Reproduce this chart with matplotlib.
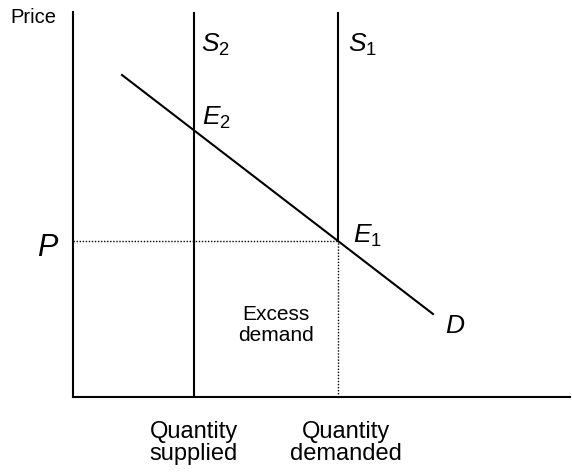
import matplotlib.pyplot as plt

plt.rcParams['font.family'] = ['Liberation Sans', 'DejaVu Sans']
plt.rcParams['mathtext.fontset'] = 'custom'
plt.rcParams['mathtext.rm'] = 'Liberation Sans'
plt.rcParams['mathtext.it'] = 'Liberation Sans:italic'

# chart values (abstract units)
q_supplied = 2.42
q_demanded = 5.3
price = 3.12
demand_q = [0.98, 7.2]
demand_p = [6.44, 1.66]
q_max = 9.94
p_max = 7.7

fig = plt.figure(figsize=(5.72, 4.72), dpi=100)
ax = fig.add_axes([73 / 572, 75 / 472, 497 / 572, 385 / 472])
ax.set_xlim(0, q_max)
ax.set_ylim(0, p_max)
for s in ['top', 'right']:
    ax.spines[s].set_visible(False)
for s in ['left', 'bottom']:
    ax.spines[s].set_linewidth(1.5)
ax.set_xticks([])
ax.set_yticks([])

ax.plot([q_supplied, q_supplied], [0, p_max], color='black', lw=1.5)
ax.plot([q_demanded, q_demanded], [price, p_max], color='black', lw=1.5)
ax.plot([q_demanded, q_demanded], [0, price], color='black', lw=1, dashes=(1, 1.2))
ax.plot([0, q_demanded], [price, price], color='black', lw=1, dashes=(1, 1.2))
ax.plot(demand_q, demand_p, color='black', lw=1.5)

big = 19
ax.text(-0.34, 7.59, 'Price', fontsize=14.5, ha='right', va='center', clip_on=False)
ax.text(-0.28, 2.98, '$P$', fontsize=22, ha='right', va='center', clip_on=False)
ax.text(q_supplied + 0.14, 6.9, '$S_2$', fontsize=big, ha='left', va='baseline')
ax.text(q_demanded + 0.2, 6.9, '$S_1$', fontsize=big, ha='left', va='baseline')
ax.text(q_supplied + 0.16, 5.44, '$E_2$', fontsize=big, ha='left', va='baseline')
ax.text(q_demanded + 0.3, 3.08, '$E_1$', fontsize=big, ha='left', va='baseline')
ax.text(7.44, 1.28, '$D$', fontsize=big, ha='left', va='baseline')
ax.text(4.06, 1.44, 'Excess\ndemand', fontsize=15, ha='center', va='center',
        linespacing=1.1)
ax.text(q_supplied, -0.92, 'Quantity\nsupplied', fontsize=17, ha='center', va='center',
        linespacing=0.95, clip_on=False)
ax.text(q_demanded + 0.16, -0.92, 'Quantity\ndemanded', fontsize=17, ha='center', va='center',
        linespacing=0.95, clip_on=False)

fig.savefig('out.png', dpi=100)
